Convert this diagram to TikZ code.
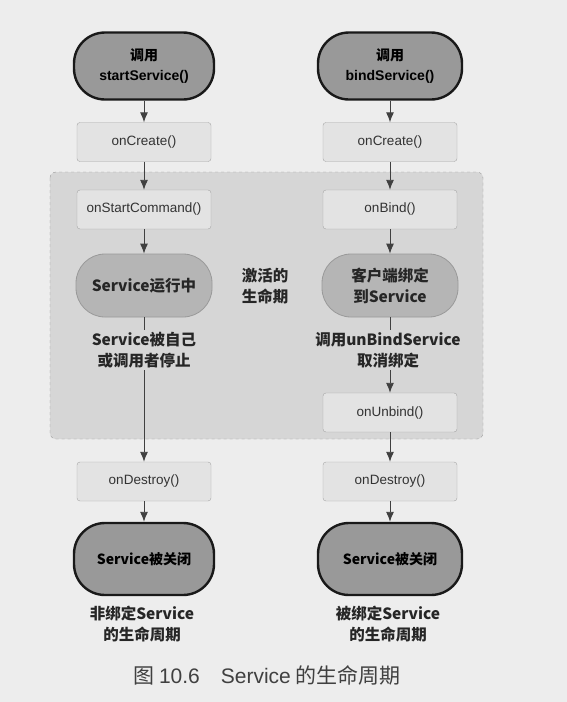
\documentclass[tikz,border=0pt]{standalone}
\usepackage{fontspec}
\setmainfont{Noto Sans CJK SC}
\newfontfamily\latfont{Liberation Sans}
\usetikzlibrary{arrows.meta}

\begin{document}
\begin{tikzpicture}[x=1pt,y=-1pt,
  callbox/.style={draw=black!35,fill=black!11,rounded corners=3pt,
    minimum width=134pt,minimum height=39pt,font=\latfont\fontsize{13.5}{16}\selectfont,text=black!80},
  endpill/.style={draw=black!90,line width=2.4pt,fill=black!40,rounded corners=31pt,
    minimum width=140pt,font=\bfseries\fontsize{14}{20}\selectfont,align=center},
  runpill/.style={draw=black!40,line width=0.8pt,fill=black!29,rounded corners=29pt,
    minimum width=136pt,minimum height=63pt,font=\bfseries\fontsize{15.5}{21}\selectfont,align=center,text=black!85},
  note/.style={font=\bfseries\fontsize{15.5}{21}\selectfont,align=center,inner sep=2pt,text=black!85},
  flow/.style={draw=black!75,line width=0.9pt,-{Latex[length=10pt,width=8pt]}},
  plain/.style={draw=black!75,line width=0.9pt}]
\useasboundingbox (0,0) rectangle (567,702);
\fill[black!7] (0,0) rectangle (567,702);

% active lifetime region
\draw[dashed,black!40,fill=black!16,rounded corners=6pt] (50,172) rectangle (483,439);

% left column
\node[endpill,minimum height=67pt] (startcall) at (144,66) {调用\\{\latfont startService()}};
\node[callbox] (create1) at (144,142) {onCreate()};
\node[callbox] (startcmd) at (144,209.5) {onStartCommand()};
\node[runpill] (running) at (144,285.5) {Service运行中};
\node[note] (stopped) at (144,350) {Service被自己\\或调用者停止};
\node[callbox] (destroy1) at (144,481.5) {onDestroy()};
\node[endpill,minimum height=72pt] (closed1) at (144,559) {Service被关闭};
\node[note] (unboundlab) at (142,624) {非绑定Service\\的生命周期};

% right column
\node[endpill,minimum height=67pt,minimum width=144pt] (bindcall) at (390,66) {调用\\{\latfont bindService()}};
\node[callbox] (create2) at (390,142) {onCreate()};
\node[callbox] (onbind) at (390,209.5) {onBind()};
\node[runpill] (bound) at (390,285.5) {客户端绑定\\到Service};
\node[note] (unbindtxt) at (388,350) {调用unBindService\\取消绑定};
\node[callbox] (onunbind) at (390,412.5) {onUnbind()};
\node[callbox] (destroy2) at (390,481.5) {onDestroy()};
\node[endpill,minimum height=72pt,minimum width=144pt] (closed2) at (390,559) {Service被关闭};
\node[note] (boundlab) at (388,624) {被绑定Service\\的生命周期};

\node[note] (activelab) at (265,286) {激活的\\生命期};
\node[font=\fontsize{21}{24}\selectfont,text=black!75] (caption) at (267,675) {图 {\latfont 10.6}\quad{\latfont Service} 的生命周期};

\draw[flow] (startcall) -- (create1);
\draw[flow] (create1) -- (startcmd);
\draw[flow] (startcmd) -- (running);
\draw[plain] (running) -- (stopped);
\draw[flow] (stopped) -- (destroy1);
\draw[flow] (destroy1) -- (closed1);

\draw[flow] (bindcall) -- (create2);
\draw[flow] (create2) -- (onbind);
\draw[flow] (onbind) -- (bound);
\draw[plain] (bound.south) -- (bound.south |- unbindtxt.north);
\draw[flow] (unbindtxt.south -| onunbind) -- (onunbind);
\draw[flow] (onunbind) -- (destroy2);
\draw[flow] (destroy2) -- (closed2);

\end{tikzpicture}
\end{document}
